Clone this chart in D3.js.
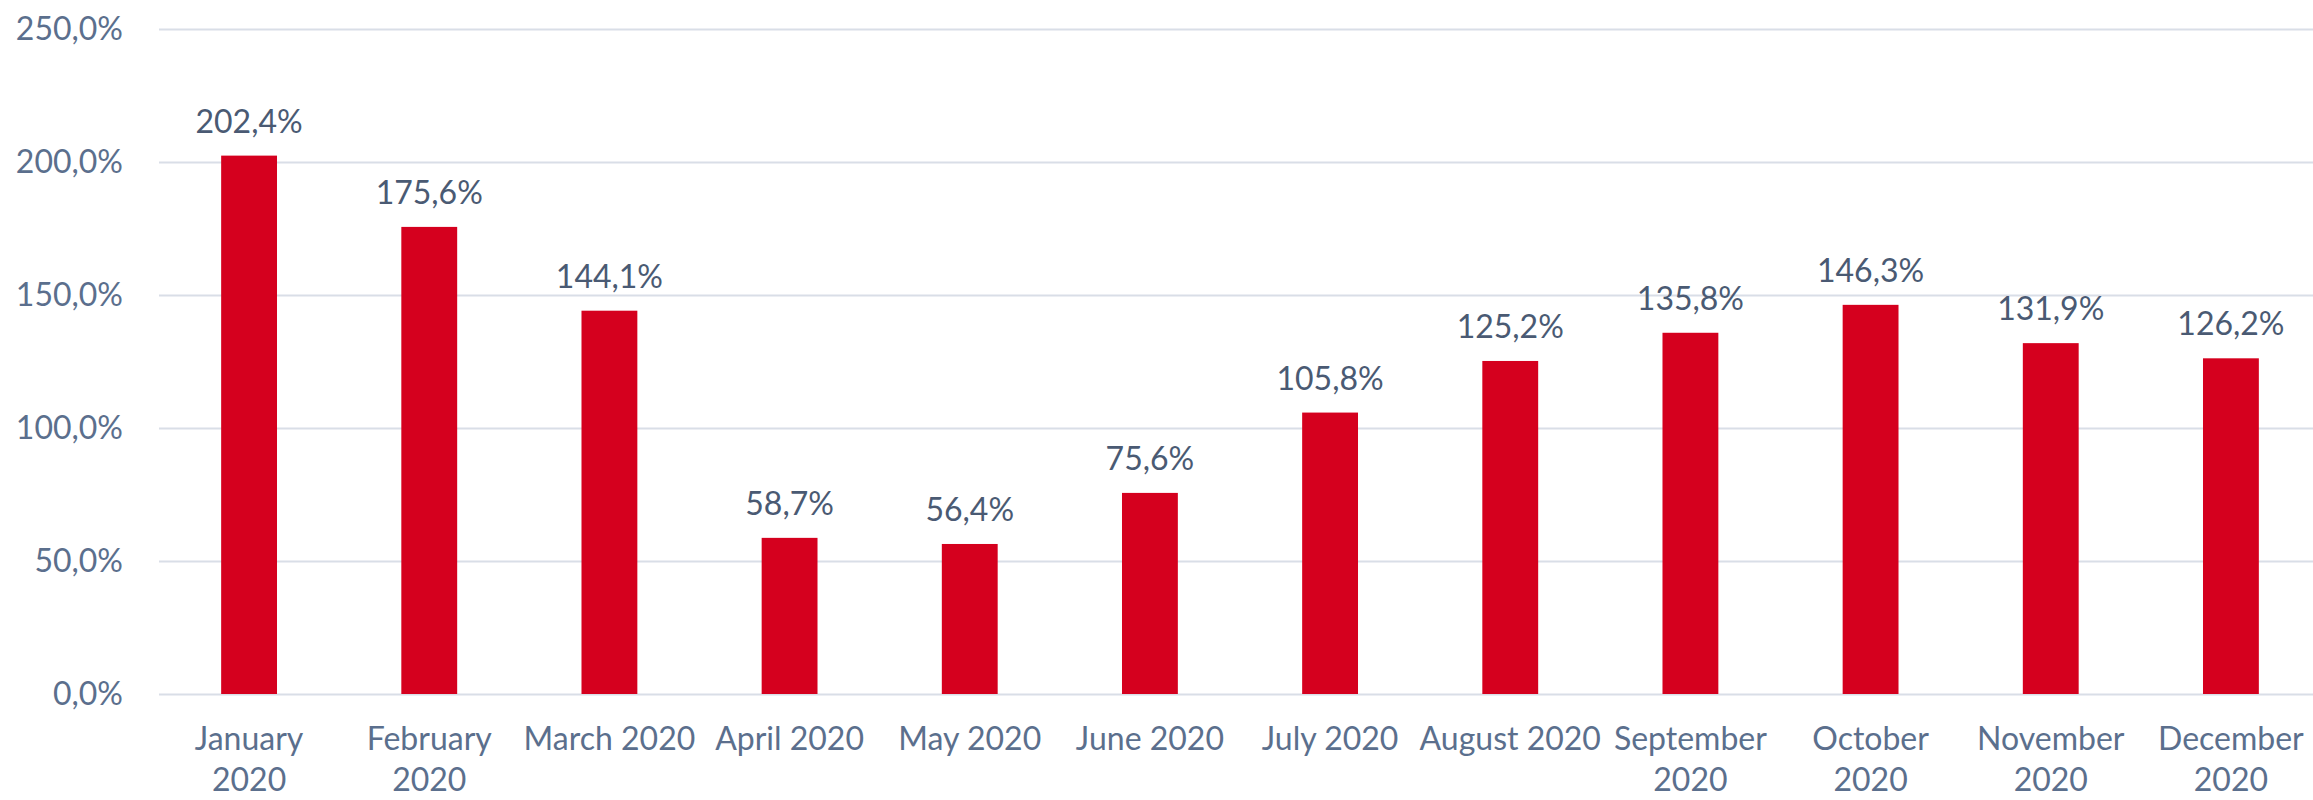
<!DOCTYPE html>
<html>
<head>
<meta charset="utf-8">
<script src="https://cdn.jsdelivr.net/npm/d3@7"></script>
<style>
  html, body { margin: 0; padding: 0; background: #ffffff; }
  svg { display: block; }
  text { font-family: Lato, "Open Sans", sans-serif; }
</style>
</head>
<body>
<svg id="chart" width="2313" height="800"></svg>
<script>
// ---- data ----
const categories = ["January 2020", "February 2020", "March 2020", "April 2020", "May 2020", "June 2020",
                    "July 2020", "August 2020", "September 2020", "October 2020", "November 2020", "December 2020"];
const categoryLines = [["January", "2020"], ["February", "2020"], ["March 2020"], ["April 2020"], ["May 2020"], ["June 2020"],
                       ["July 2020"], ["August 2020"], ["September", "2020"], ["October", "2020"], ["November", "2020"], ["December", "2020"]];
const values = [202.4, 175.6, 144.1, 58.7, 56.4, 75.6, 105.8, 125.2, 135.8, 146.3, 131.9, 126.2];
const yTicks = [0, 50, 100, 150, 200, 250];

// ---- layout ----
const W = 2313, H = 800;
const plot = { left: 159, right: 2321, top: 29, bottom: 694 };

const svg = d3.select("#chart");

const x = d3.scaleBand()
  .domain(categories)
  .range([plot.left, plot.right])
  .paddingInner(0.69)
  .paddingOuter(0.345);

const y = d3.scaleLinear()
  .domain([0, 250])
  .range([plot.bottom, plot.top]);

const fmt = v => d3.format(".1f")(v).replace(".", ",") + "%";

// gridlines
svg.append("g")
  .selectAll("line")
  .data(yTicks)
  .join("line")
  .attr("x1", plot.left)
  .attr("x2", W)
  .attr("y1", d => Math.round(y(d)) + 0.5)
  .attr("y2", d => Math.round(y(d)) + 0.5)
  .attr("stroke", "#d9dee7")
  .attr("stroke-width", 2);

// y axis labels
const yAxis = d3.axisLeft(y).tickValues(yTicks).tickFormat(fmt).tickSize(0).tickPadding(0);
const yg = svg.append("g")
  .attr("transform", `translate(123,0)`)
  .call(yAxis);
yg.select(".domain").remove();
yg.selectAll("text")
  .attr("font-size", 32)
  .attr("font-family", "Lato, 'Open Sans', sans-serif")
  .attr("fill", "#5b6f8d")
  .attr("dy", "0.32em");

// bars
svg.append("g")
  .selectAll("rect")
  .data(values)
  .join("rect")
  .attr("x", (d, i) => x(categories[i]))
  .attr("width", x.bandwidth())
  .attr("y", d => y(d))
  .attr("height", d => y(0) - y(d))
  .attr("fill", "#d5001e");

// value labels
svg.append("g")
  .selectAll("text")
  .data(values)
  .join("text")
  .attr("x", (d, i) => x(categories[i]) + x.bandwidth() / 2)
  .attr("y", d => y(d) - 23)
  .attr("text-anchor", "middle")
  .attr("font-size", 32)
  .attr("fill", "#4a5a73")
  .text(d => fmt(d));

// x axis labels
const xl = svg.append("g")
  .selectAll("text")
  .data(categories)
  .join("text")
  .attr("x", d => x(d) + x.bandwidth() / 2)
  .attr("y", 750)
  .attr("text-anchor", "middle")
  .attr("font-size", 32)
  .attr("fill", "#5b6f8d");
xl.each(function(d, i) {
  const t = d3.select(this);
  categoryLines[i].forEach((line, j) => {
    t.append("tspan")
      .attr("x", x(d) + x.bandwidth() / 2)
      .attr("dy", j === 0 ? 0 : 41)
      .text(line);
  });
});
</script>
</body>
</html>
